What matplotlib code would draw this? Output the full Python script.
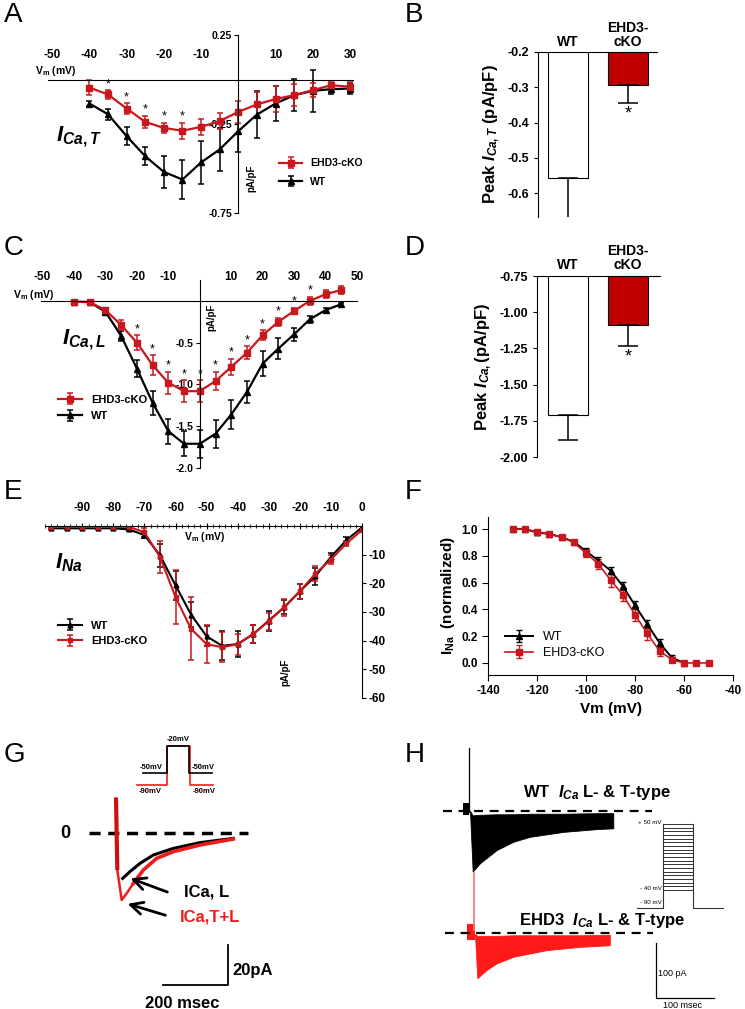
import numpy as np
import matplotlib
matplotlib.use('Agg')
import matplotlib.pyplot as plt
from matplotlib.ticker import FormatStrFormatter, MultipleLocator

plt.rcParams['font.family'] = ['Liberation Sans', 'DejaVu Sans']
plt.rcParams['font.weight'] = 'bold'
plt.rcParams['axes.labelweight'] = 'bold'
plt.rcParams['axes.unicode_minus'] = False
plt.rcParams['mathtext.fontset'] = 'custom'
plt.rcParams['mathtext.rm'] = 'Liberation Sans:bold'
plt.rcParams['mathtext.it'] = 'Liberation Sans:italic:bold'
plt.rcParams['mathtext.bf'] = 'Liberation Sans:bold'

RED = '#c8171d'
BAR_RED = '#c00000'
TRACE_RED = '#ee1c1c'

# ---- A: T-type I-V (pA/pF)
A_VM = [-40, -35, -30, -25, -20, -15, -10, -5, 0, 5, 10, 15, 20, 25, 30]
A_KO = [-0.045, -0.084, -0.163, -0.238, -0.272, -0.288, -0.266, -0.234, -0.182, -0.140, -0.110, -0.088, -0.060, -0.032, -0.041]
A_KO_ERR = [0.04, 0.025, 0.03, 0.035, 0.03, 0.045, 0.045, 0.045, 0.06, 0.07, 0.075, 0.06, 0.04, 0.02, 0.025]
A_WT = [-0.135, -0.195, -0.318, -0.431, -0.519, -0.562, -0.466, -0.393, -0.290, -0.197, -0.135, -0.088, -0.064, -0.054, -0.051]
A_WT_ERR = [0.015, 0.03, 0.05, 0.05, 0.09, 0.11, 0.12, 0.12, 0.12, 0.13, 0.10, 0.09, 0.12, 0.03, 0.03]
A_STARS = [-35, -30, -25, -20, -15]

# ---- B: peak T-type
B_GROUPS = ['WT', 'EHD3-\ncKO']
B_MEAN = [-0.557, -0.292]
B_ERR = [0.12, 0.051]

# ---- C: L-type I-V
C_VM = [-40, -35, -30, -25, -20, -15, -10, -5, 0, 5, 10, 15, 20, 25, 30, 35, 40, 45]
C_KO = [-0.01, -0.015, -0.11, -0.29, -0.50, -0.77, -0.98, -1.08, -1.08, -0.96, -0.79, -0.62, -0.41, -0.25, -0.12, 0.0, 0.08, 0.13]
C_KO_ERR = [0.01, 0.01, 0.03, 0.06, 0.09, 0.12, 0.13, 0.13, 0.13, 0.11, 0.10, 0.08, 0.06, 0.05, 0.04, 0.05, 0.05, 0.05]
C_WT = [-0.01, -0.015, -0.13, -0.42, -0.81, -1.22, -1.56, -1.71, -1.71, -1.59, -1.36, -1.09, -0.75, -0.57, -0.40, -0.22, -0.11, -0.04]
C_WT_ERR = [0.01, 0.01, 0.03, 0.06, 0.10, 0.14, 0.15, 0.15, 0.17, 0.17, 0.17, 0.13, 0.15, 0.12, 0.08, 0.04, 0.03, 0.02]
C_STARS = [-20, -15, -10, -5, 0, 5, 10, 15, 20, 25, 30, 35]

# ---- D: peak L-type
D_MEAN = [-1.71, -1.09]
D_ERR = [0.17, 0.14]

# ---- E: INa I-V
E_VM = [-100, -95, -90, -85, -80, -75, -70, -65, -60, -55, -50, -45, -40, -35, -30, -25, -20, -15, -10, -5, 0]
E_KO = [-0.3, -0.3, -0.3, -0.3, -0.3, -0.3, -2.2, -10.8, -24.8, -35.9, -41.2, -42.3, -41.2, -37.7, -33.2, -28.3, -22.8, -16.6, -11.7, -6.1, -1.4]
E_KO_ERR = [0.5, 0.5, 0.5, 0.5, 0.5, 0.5, 1.5, 5.6, 9.4, 11.0, 6.6, 5.3, 3.7, 3.0, 3.0, 3.0, 2.5, 2.5, 1.5, 1.0, 0.5]
E_WT = [-0.8, -0.8, -0.8, -0.8, -0.8, -1.2, -3.2, -10.2, -20.7, -30.9, -38.5, -41.8, -41.2, -37.7, -33.0, -28.3, -22.8, -17.5, -10.8, -4.9, -0.5]
E_WT_ERR = [0.3, 0.3, 0.3, 0.3, 0.3, 0.4, 1.0, 4.0, 5.0, 4.5, 3.5, 5.0, 4.5, 3.0, 3.5, 2.5, 2.5, 3.0, 1.5, 1.0, 0.5]

# ---- F: INa steady-state inactivation
F_VM_KO = [-130, -125, -120, -115, -110, -105, -100, -95, -90, -85, -80, -75, -70, -65, -60, -55, -50]
F_KO = [1.0, 1.0, 0.98, 0.963, 0.94, 0.90, 0.82, 0.74, 0.62, 0.51, 0.36, 0.22, 0.09, 0.025, 0.0, 0.0, 0.0]
F_KO_ERR = [0.01, 0.01, 0.015, 0.01, 0.01, 0.015, 0.03, 0.04, 0.05, 0.05, 0.05, 0.05, 0.04, 0.02, 0.01, 0.01, 0.01]
F_VM_WT = [-130, -125, -120, -115, -110, -105, -100, -95, -90, -85, -80, -75, -70, -65, -60]
F_WT = [1.0, 1.0, 0.975, 0.963, 0.94, 0.905, 0.835, 0.765, 0.69, 0.575, 0.43, 0.29, 0.15, 0.04, 0.0]
F_WT_ERR = [0.01, 0.01, 0.02, 0.01, 0.01, 0.015, 0.02, 0.025, 0.025, 0.03, 0.03, 0.03, 0.03, 0.02, 0.01]

# ---- G: example traces (ms, pA)
G_KO_T = [0, 4.1, 17.4, 32.8, 53.3, 84.1, 125, 176.4, 258.5, 361]
G_KO_PA = [17.8, -18.5, -33.5, -30.2, -25.2, -18.5, -12.7, -9.3, -6.0, -3.0]
G_WT_T = [20.5, 43, 73.8, 114.9, 176.4, 258.5, 361]
G_WT_PA = [-22.7, -19.3, -15.2, -11.0, -7.7, -4.8, -2.7]
G_PROTO_T_WT = [0, 24, 24, 46, 46, 69]
G_PROTO_T_KO = [-6, 24, 24, 47, 47, 70]
G_PROTO_WT = [-50, -50, -20, -20, -50, -50]
G_PROTO_KO = [-90, -90, -20, -20, -90, -90]

# ---- H: family of traces, envelopes (ms, pA)
H_WT_T = [0, 4.6, 17.2, 46, 74.7, 103, 161, 218, 247]
H_WT_LO = [-1, -110, -95, -71, -56, -47, -38, -33, -31.5]
H_WT_HI = [0, -8, -7, -6, -6, -5, -5, -4, -4]
H_KO_T = [8.6, 12.6, 28.7, 46, 74.7, 132, 190, 241]
H_KO_LO = [-3.6, -82, -67, -55, -43, -31, -25, -22]
H_KO_HI = [-2, -5, -5, -5, -4, -4, -4, -3]
H_KO_OFFSET = -222
H_STEPS_MV = [-40, -35, -30, -25, -20, -15, -10, -5, 0, 5, 10, 15, 20, 25, 30, 35, 40, 45, 50]

W, H = 745, 1009
fig = plt.figure(figsize=(W / 100, H / 100), dpi=100)


def px_axes(x0, y0, x1, y1):
    return fig.add_axes([x0 / W, 1 - y1 / H, (x1 - x0) / W, (y1 - y0) / H])


def ftext(x, y, s, **kw):
    return fig.text(x / W, 1 - y / H, s, **kw)


for letter, x, y in [('A', 4, 15), ('B', 405, 15), ('C', 4, 248), ('D', 405, 248),
                     ('E', 4, 492), ('F', 405, 492), ('G', 4, 755), ('H', 405, 755)]:
    ftext(x, y, letter, fontsize=20, fontweight='normal', va='center')


def iv_axes(ax):
    ax.spines['left'].set_position(('data', 0))
    ax.spines['top'].set_position(('data', 0))
    ax.spines['right'].set_visible(False)
    ax.spines['bottom'].set_visible(False)
    ax.xaxis.set_ticks_position('top')
    ax.tick_params(axis='x', length=0, pad=13, labelsize=8.5)
    ax.tick_params(axis='y', direction='out', length=3, labelsize=7.5, pad=1.5)
    ax.set_facecolor('none')


def ebar(ax, x, y, e, color, marker, label, ms=4, lw=1.6):
    ax.errorbar(x, y, yerr=e, color=color, marker=marker, ms=ms, lw=lw,
                elinewidth=1.1, capsize=2.5, capthick=1.1, label=label)


# ---------------- A
axA = px_axes(48, 35, 353, 213)
axA.set_xlim(-51.1, 30.8)
axA.set_ylim(-0.75, 0.25)
iv_axes(axA)
axA.set_xticks([-50, -40, -30, -20, -10, 10, 20, 30])
axA.set_yticks([0.25, -0.25, -0.75])
axA.yaxis.set_major_formatter(FormatStrFormatter('%.2f'))
ebar(axA, A_VM, A_WT, A_WT_ERR, 'k', '^', 'WT')
ebar(axA, A_VM, A_KO, A_KO_ERR, RED, 's', 'EHD3-cKO')
for x, y, e in zip(A_VM, A_KO, A_KO_ERR):
    if x in A_STARS:
        axA.text(x, y + e, '*', ha='center', va='bottom', fontsize=9, fontweight='normal')
axA.text(-54.6, 0.048, 'V$_\\mathrm{m}$ (mV)', fontsize=7.5, va='center')
axA.text(2.3, -0.553, 'pA/pF', rotation=90, fontsize=7, va='center', ha='left')
ftext(56, 137, r'$I_{Ca,T}$', fontsize=16, va='center')
h, l = axA.get_legend_handles_labels()
axA.legend(h[::-1], l[::-1], loc='upper left', bbox_to_anchor=(274 / W, 1 - 153 / H),
           bbox_transform=fig.transFigure, frameon=False, handlelength=2.2,
           prop={'weight': 'bold', 'size': 7.5}, labelspacing=0.8, borderpad=0)


def bar_axes(ax, means, errs, ylim, ticks, fmt, label, star_gap):
    xs = [0, 1]
    ax.bar(xs, means, width=0.667, color=['white', BAR_RED], edgecolor='k', lw=0.8)
    ax.errorbar(xs, means, yerr=[errs, [0, 0]], fmt='none', ecolor='k', elinewidth=1.1,
                capsize=7, capthick=1.1)
    ax.set_ylim(*ylim)
    ax.set_yticks(ticks)
    ax.yaxis.set_major_formatter(FormatStrFormatter(fmt))
    ax.spines['right'].set_visible(False)
    ax.spines['bottom'].set_visible(False)
    ax.set_xticks([])
    ax.tick_params(axis='y', direction='out', length=3, labelsize=9)
    ax.set_ylabel(label, fontsize=12, labelpad=4)
    for x, s in zip(xs, B_GROUPS):
        ax.text(x, 1.02, s, transform=ax.get_xaxis_transform(), ha='center', va='bottom',
                fontsize=10, linespacing=1.0)
    ax.text(1, means[1] - errs[1] - star_gap, '*', ha='center', va='top', fontsize=13,
            fontweight='normal')


# ---------------- B
axB = px_axes(538, 52, 657, 217)
axB.set_xlim(-0.5, 1.483)
bar_axes(axB, B_MEAN, B_ERR, (-0.667, -0.2), [-0.2, -0.3, -0.4, -0.5, -0.6], '%.1f',
         r'Peak $I_{Ca,T}$ (pA/pF)', 0.008)

# ---------------- C
axC = px_axes(41, 280, 357, 468)
axC.set_xlim(-50.5, 50)
axC.set_ylim(-2.0, 0.25)
iv_axes(axC)
axC.set_xticks([-50, -40, -30, -20, -10, 10, 20, 30, 40, 50])
axC.set_yticks([-0.5, -1.0, -1.5, -2.0])
axC.yaxis.set_major_formatter(FormatStrFormatter('%.1f'))
ebar(axC, C_VM, C_WT, C_WT_ERR, 'k', '^', 'WT')
ebar(axC, C_VM, C_KO, C_KO_ERR, RED, 's', 'EHD3-cKO')
for x, y, e in zip(C_VM, C_KO, C_KO_ERR):
    if x in C_STARS:
        axC.text(x, y + e, '*', ha='center', va='bottom', fontsize=9, fontweight='normal')
axC.text(-59.4, 0.07, 'V$_\\mathrm{m}$ (mV)', fontsize=7.5, va='center')
axC.text(2.0, -0.2, 'pA/pF', rotation=90, fontsize=7, va='center', ha='left')
ftext(62, 340, r'$I_{Ca,L}$', fontsize=16, va='center')
h, l = axC.get_legend_handles_labels()
axC.legend(h[::-1], l[::-1], loc='upper left', bbox_to_anchor=(52 / W, 1 - 389 / H),
           bbox_transform=fig.transFigure, frameon=False, handlelength=2.2,
           prop={'weight': 'bold', 'size': 8}, labelspacing=0.6, borderpad=0)

# ---------------- D
axD = px_axes(537, 276, 660, 457)
axD.set_xlim(-0.517, 1.53)
bar_axes(axD, D_MEAN, D_ERR, (-2.0, -0.75), [-0.75, -1.0, -1.25, -1.5, -1.75, -2.0], '%.2f',
         r'Peak $I_{Ca,}$(pA/pF)', 0.02)

# ---------------- E
axE = px_axes(45, 526, 362, 698)
axE.set_xlim(-102, 0)
axE.set_ylim(-60, 0)
axE.spines['left'].set_visible(False)
axE.spines['bottom'].set_visible(False)
axE.xaxis.set_ticks_position('top')
axE.yaxis.set_ticks_position('right')
axE.set_xticks([-90, -80, -70, -60, -50, -40, -30, -20, -10, 0])
axE.xaxis.set_minor_locator(MultipleLocator(2))
axE.set_yticks([-10, -20, -30, -40, -50, -60])
axE.tick_params(axis='x', which='major', direction='inout', length=5, labelsize=8.5, pad=6)
axE.tick_params(axis='x', which='minor', direction='inout', length=3)
axE.tick_params(axis='y', direction='out', length=3, labelsize=8.5, pad=2)
ebar(axE, E_VM, E_WT, E_WT_ERR, 'k', '^', 'WT', ms=3.5, lw=1.5)
ebar(axE, E_VM, E_KO, E_KO_ERR, RED, 's', 'EHD3-cKO', ms=3.5, lw=1.5)
axE.text(-50.5, -3.8, 'V$_\\mathrm{m}$ (mV)', fontsize=7.5, va='center', ha='center')
axE.text(-24.8, -51, 'pA/pF', rotation=90, fontsize=7, va='center', ha='center')
ftext(55, 563, r'$I_{Na}$', fontsize=16, va='center')
axE.legend(loc='upper left', bbox_to_anchor=(52 / W, 1 - 615 / H),
           bbox_transform=fig.transFigure, frameon=False, handlelength=2.2,
           prop={'weight': 'bold', 'size': 8}, labelspacing=0.5, borderpad=0)

# ---------------- F
axF = px_axes(488, 517, 733, 675)
axF.set_xlim(-140, -40)
axF.set_ylim(-0.09, 1.09)
axF.spines['top'].set_visible(False)
axF.spines['right'].set_visible(False)
axF.set_xticks([-140, -120, -100, -80, -60, -40])
axF.set_yticks([0.0, 0.2, 0.4, 0.6, 0.8, 1.0])
axF.yaxis.set_major_formatter(FormatStrFormatter('%.1f'))
axF.tick_params(direction='out', length=4, labelsize=8.5)
axF.errorbar(F_VM_WT, F_WT, yerr=F_WT_ERR, color='k', marker='^', ms=4, lw=1.4,
             elinewidth=1, capsize=2.5, label='WT')
axF.errorbar(F_VM_KO, F_KO, yerr=F_KO_ERR, color=RED, marker='s', ms=4.5, lw=1.2,
             elinewidth=1, capsize=2.5, label='EHD3-cKO')
axF.set_xlabel('Vm (mV)', fontsize=11, labelpad=3)
axF.set_ylabel('I$_\\mathrm{Na}$  (normalized)', fontsize=11, labelpad=3)
axF.legend(loc='upper left', bbox_to_anchor=(499 / W, 1 - 625 / H),
           bbox_transform=fig.transFigure, frameon=False, handlelength=2.2,
           prop={'weight': 'normal', 'size': 9}, labelspacing=0.3, borderpad=0)

# ---------------- G
axG = px_axes(60, 725, 262, 1009)
axG.set_xlim(-172.3, 449.2)
axG.set_ylim(-88, 54)
axG.axis('off')
axG.plot([-83, 406], [0, 0], color='k', lw=2.5, dashes=(3.2, 2.2))
axG.plot(G_KO_T[1:], G_KO_PA[1:], color=TRACE_RED, lw=1.8)
axG.plot(G_WT_T, G_WT_PA, color='k', lw=2.2)
axG.plot(G_KO_T[:2], G_KO_PA[:2], color='#d01010', lw=3, solid_capstyle='butt')
axG.plot(G_KO_T[4:], G_KO_PA[4:], color=TRACE_RED, lw=2.6)
axG.annotate('', xy=(G_WT_T[0] + 16, G_WT_PA[0] + 0.5), xytext=(166, -30),
             arrowprops=dict(arrowstyle='->', lw=2, mutation_scale=22, color='k'))
axG.annotate('', xy=(G_KO_T[2] + 10, G_KO_PA[2] - 1.5), xytext=(160, -41.5),
             arrowprops=dict(arrowstyle='->', lw=2, mutation_scale=22, color='k'))
axG.text(209, -29.5, 'ICa, L', fontsize=12, va='center', ha='left')
axG.text(197, -42, 'ICa,T+L', fontsize=12, va='center', ha='left', color=TRACE_RED)
g_x0, g_y0 = 344.6, -76
axG.plot([g_x0 - 200, g_x0, g_x0], [g_y0, g_y0, g_y0 + 20], color='k', lw=1.3)
axG.text(g_x0 + 12, g_y0 + 7.5, '20pA', fontsize=12, va='center', ha='left')
axG.text(g_x0 - 140, g_y0 - 9, '200 msec', fontsize=12, va='center', ha='center')
ftext(65, 833, '0', fontsize=13, va='center', ha='center')

# voltage protocol (schematic, compressed)
axGP = px_axes(130, 735, 225, 800)
axGP.set_xlim(-13, 82)
axGP.set_ylim(-54, 11)
axGP.axis('off')
g_row = {-20: 0, -50: -27, -90: -39}
axGP.plot(G_PROTO_T_KO, [g_row[v] for v in G_PROTO_KO], color=TRACE_RED, lw=1.2)
axGP.plot(G_PROTO_T_WT, [g_row[v] for v in G_PROTO_WT], color='k', lw=1.2)
axGP.text(35, 3, '-20mV', fontsize=5.5, ha='center', va='bottom')
axGP.text(20, -25, '-50mV', fontsize=5.5, ha='right', va='bottom')
axGP.text(49, -25, '-50mV', fontsize=5.5, ha='left', va='bottom')
axGP.text(19, -42, '-90mV', fontsize=5.5, ha='right', va='top')
axGP.text(50, -42, '-90mV', fontsize=5.5, ha='left', va='top')

# ---------------- H
axH = px_axes(420, 725, 745, 1009)
axH.set_xlim(-86.2, 474)
axH.set_ylim(-360, 156.3)
axH.axis('off')
axH.plot([-46.5, 313.8], [0, 0], color='k', lw=1.6, dashes=(4, 3))
axH.plot([-43, 315.5], [H_KO_OFFSET] * 2, color='k', lw=1.6, dashes=(4, 3))
axH.fill_between(H_WT_T, H_WT_LO, H_WT_HI, color='k', lw=0.6, edgecolor='k')
axH.plot([-1.7, -1.7], [-2, 114.5], color='k', lw=0.9)
axH.fill_between([-12, -1], [-7, -7], [14, 14], color='k', lw=0)
axH.plot([6.9, 6.9], [-112.7, -216.3], color='#f07878', lw=1.2)
ko_lo = [v + H_KO_OFFSET for v in H_KO_LO]
ko_hi = [v + H_KO_OFFSET for v in H_KO_HI]
axH.fill_between(H_KO_T, ko_lo, ko_hi, color='#ff1a1a', lw=0.6, edgecolor='#ff1a1a')
axH.fill_between([-5, 9], [-234, -234], [-205, -205], color='#ff1a1a', lw=0)
h_x0, h_y0 = 320.7, -340
axH.plot([h_x0, h_x0, h_x0 + 100], [h_y0 + 100, h_y0, h_y0], color='k', lw=0.9)
axH.text(h_x0 + 3, h_y0 + 45, '100 pA', fontsize=6.5, fontweight='normal', va='center')
axH.text(h_x0 + 45, h_y0 - 6, '100 msec', fontsize=6.5, fontweight='normal', va='top', ha='center')
ftext(597, 792, r'WT  $I_{Ca}$ L- & T-type', fontsize=12, ha='center', va='center')
ftext(602, 921, r'EHD3  $I_{Ca}$ L- & T-type', fontsize=12, ha='center', va='center')

axHP = px_axes(630, 815, 730, 915)
axHP.set_xlim(0, 172.4)
axHP.set_ylim(-74.1, 62.3)
axHP.axis('off')
hold_drawn = -64.5
axHP.plot([12, 57, 57], [hold_drawn, hold_drawn, H_STEPS_MV[-1]], color='#333333', lw=0.8)
axHP.plot([109, 109, 160], [H_STEPS_MV[-1], hold_drawn, hold_drawn], color='#333333', lw=0.8)
axHP.hlines(H_STEPS_MV, 57, 109, color='#333333', lw=0.7)
axHP.text(55, 52.5, '+ 50 mV', fontsize=4.5, fontweight='normal', ha='right', va='center')
axHP.text(55, -38.5, '- 40 mV', fontsize=4.5, fontweight='normal', ha='right', va='center')
axHP.text(55, -57.5, '- 90 mV', fontsize=4.5, fontweight='normal', ha='right', va='center')

fig.savefig('out.png', dpi=100)
